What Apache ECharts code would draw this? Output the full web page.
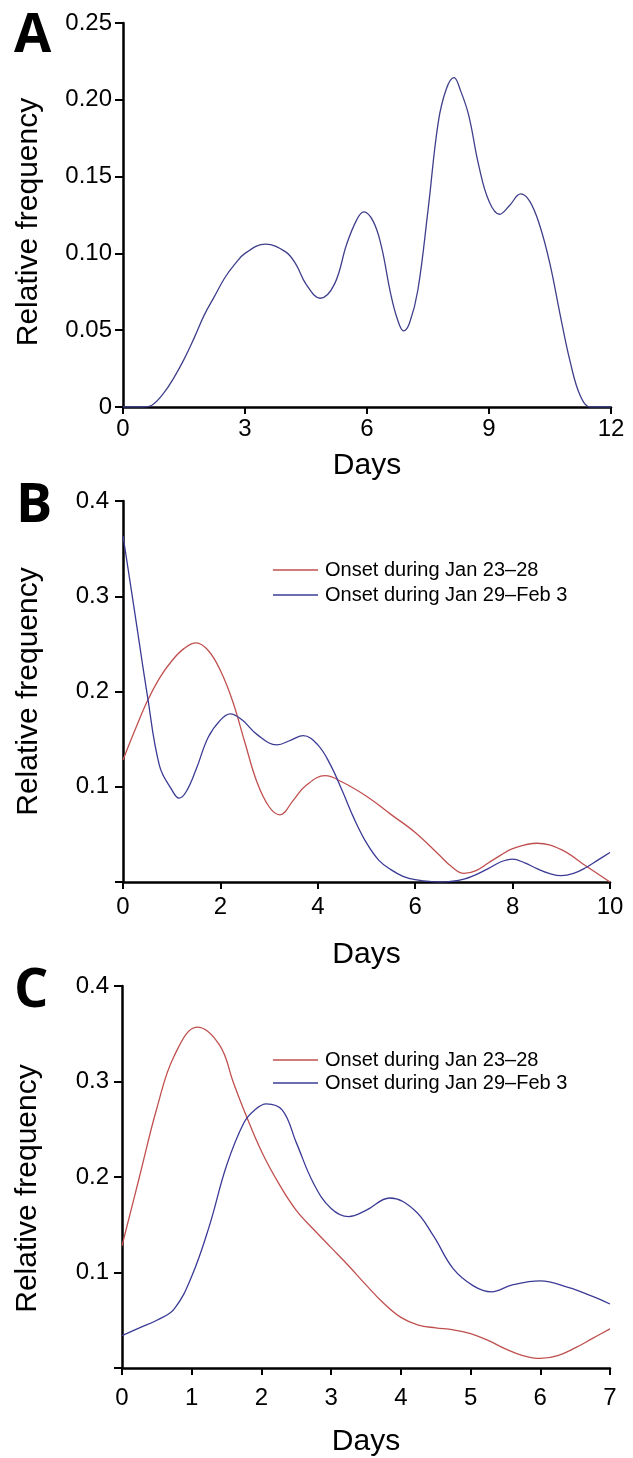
<!DOCTYPE html>
<html>
<head>
<meta charset="utf-8">
<script src="https://cdn.jsdelivr.net/npm/echarts@6/dist/echarts.min.js"></script>
<style>
html,body{margin:0;padding:0;background:#fff;}
#chart{width:633px;height:1458px;}
</style>
</head>
<body>
<div id="chart"></div>
<script>
// ---- Data ----
const seriesNames = ['Onset during Jan 23\u201328', 'Onset during Jan 29\u2013Feb 3'];
const panelLetters = ['A', 'B', 'C'];
const xTitle = 'Days';
const yTitle = 'Relative frequency';

// Panel A
const aDays = [0, 0.5, 0.7, 1.0, 1.25, 1.5, 1.75, 2.0, 2.25, 2.5, 2.75, 3.0, 3.5, 4.0, 4.25, 4.5, 4.85, 5.2, 5.5, 5.75, 5.92, 6.15, 6.35, 6.58, 6.75, 6.9, 7.05, 7.25, 7.5, 7.75, 7.95, 8.14, 8.3, 8.5, 8.75, 9.0, 9.26, 9.5, 9.78, 10.0, 10.25, 10.5, 10.75, 11.0, 11.25, 11.5, 12];
const aFreq = [0, 0, 0.001, 0.009, 0.019, 0.031, 0.045, 0.060, 0.072, 0.084, 0.093, 0.100, 0.106, 0.101, 0.093, 0.080, 0.0708, 0.080, 0.106, 0.122, 0.127, 0.121, 0.105, 0.074, 0.057, 0.0495, 0.055, 0.076, 0.128, 0.185, 0.207, 0.2144, 0.206, 0.190, 0.157, 0.134, 0.1255, 0.131, 0.1387, 0.134, 0.118, 0.093, 0.060, 0.029, 0.007, 0, 0];

// Panel B
const bRedDays = [0, 0.25, 0.5, 0.75, 1.0, 1.25, 1.5, 1.75, 2.0, 2.25, 2.5, 2.75, 3.0, 3.22, 3.5, 3.75, 4.15, 4.5, 5.0, 5.5, 6.0, 6.5, 6.75, 7.0, 7.25, 7.5, 7.75, 8.0, 8.5, 9.0, 9.5, 10];
const bRedFreq = [0.128, 0.160, 0.190, 0.214, 0.232, 0.245, 0.251, 0.243, 0.222, 0.190, 0.147, 0.105, 0.079, 0.0705, 0.086, 0.101, 0.1116, 0.105, 0.090, 0.071, 0.052, 0.028, 0.016, 0.009, 0.012, 0.020, 0.028, 0.035, 0.0407, 0.034, 0.017, 0];
const bBlueDays = [0, 0.25, 0.5, 0.75, 1.0, 1.15, 1.3, 1.5, 1.75, 2.0, 2.2, 2.45, 2.75, 3.16, 3.45, 3.7, 4.0, 4.25, 4.5, 4.75, 5.0, 5.25, 5.5, 5.75, 6.0, 6.5, 7.0, 7.5, 7.75, 8.0, 8.25, 8.5, 8.75, 9.0, 9.25, 9.5, 9.75, 10];
const bBlueFreq = [0.3635, 0.280, 0.196, 0.122, 0.097, 0.088, 0.095, 0.118, 0.152, 0.170, 0.1765, 0.170, 0.155, 0.144, 0.149, 0.1537, 0.144, 0.124, 0.096, 0.066, 0.041, 0.023, 0.013, 0.006, 0.0025, 0, 0.003, 0.014, 0.021, 0.024, 0.020, 0.014, 0.009, 0.0066, 0.009, 0.015, 0.023, 0.031];

// Panel C
const cRedDays = [0, 0.25, 0.5, 0.75, 1.08, 1.4, 1.6, 1.75, 2.0, 2.25, 2.5, 2.75, 3.0, 3.25, 3.5, 3.75, 4.0, 4.25, 4.5, 4.75, 5.0, 5.25, 5.5, 5.75, 6.0, 6.25, 6.5, 6.75, 7.0];
const cRedFreq = [0.128, 0.200, 0.272, 0.327, 0.357, 0.338, 0.2985, 0.270, 0.227, 0.193, 0.165, 0.145, 0.126, 0.107, 0.087, 0.068, 0.053, 0.045, 0.042, 0.040, 0.036, 0.029, 0.020, 0.013, 0.010, 0.013, 0.021, 0.031, 0.041];
const cBlueDays = [0, 0.25, 0.5, 0.75, 1.0, 1.25, 1.5, 1.75, 1.9, 2.07, 2.3, 2.5, 2.75, 3.0, 3.25, 3.5, 3.84, 4.2, 4.47, 4.75, 5.04, 5.3, 5.6, 6.0, 6.4, 6.75, 7.0];
const cBlueFreq = [0.034, 0.042, 0.050, 0.062, 0.096, 0.148, 0.212, 0.257, 0.270, 0.2766, 0.270, 0.236, 0.193, 0.167, 0.1585, 0.165, 0.178, 0.165, 0.138, 0.104, 0.086, 0.0797, 0.087, 0.0912, 0.0843, 0.075, 0.067];

// ---- Styles ----
const RED = '#c0504f';
const BLUE = '#3b3b96';
const NAVY = '#3f3f8c';
const FONT = '"Liberation Sans", Arial, Helvetica, sans-serif';

function zip(xs, ys) { return xs.map((x, i) => [x, ys[i]]); }

const grids = [
  { left: 123, top: 23, width: 488, height: 384 },
  { left: 123, top: 501, width: 487, height: 381 },
  { left: 122, top: 986, width: 488, height: 383 }
];

function xAxisCfg(gi, max, interval, labelMargin, nameGap) {
  return {
    type: 'value', gridIndex: gi, min: 0, max: max, interval: interval,
    name: xTitle, nameLocation: 'middle', nameGap: nameGap,
    nameTextStyle: { fontFamily: FONT, fontSize: 30, color: '#000' },
    axisLine: { show: true, onZero: false, lineStyle: { color: '#000', width: 2.5 } },
    axisTick: { show: true, length: 7, lineStyle: { color: '#000', width: 2 } },
    axisLabel: { fontFamily: FONT, fontSize: 24, color: '#000', margin: labelMargin },
    splitLine: { show: false }
  };
}
function yAxisCfg(gi, max, interval, fmt, labelMargin, namePad) {
  return {
    type: 'value', gridIndex: gi, min: 0, max: max, interval: interval,
    name: yTitle, nameLocation: 'middle', nameGap: 79,
    nameTextStyle: { fontFamily: FONT, fontSize: 30, color: '#000', padding: [0, namePad, 0, 0] },
    axisLine: { show: true, onZero: false, lineStyle: { color: '#000', width: 2.5 } },
    axisTick: { show: true, length: 8, lineStyle: { color: '#000', width: 2 } },
    axisLabel: { fontFamily: FONT, fontSize: 24, color: '#000', margin: labelMargin, formatter: fmt },
    splitLine: { show: false }
  };
}

function lineSeries(name, xi, yi, data, color) {
  return {
    type: 'line', name: name, xAxisIndex: xi, yAxisIndex: yi,
    data: data, smooth: 0.4, showSymbol: false, symbol: 'none',
    color: color, lineStyle: { color: color, width: 1.3 }, z: 3
  };
}

const chart = echarts.init(document.getElementById('chart'), null, { renderer: 'canvas' });
const option = {
  backgroundColor: '#fff',
  animation: false,
  grid: grids,
  xAxis: [
    xAxisCfg(0, 12, 3, 10, 44),
    xAxisCfg(1, 10, 2, 13, 58),
    xAxisCfg(2, 7, 1, 18, 59)
  ],
  yAxis: [
    yAxisCfg(0, 0.25, 0.05, v => v === 0 ? '0' : v.toFixed(2), 11, 14),
    yAxisCfg(1, 0.4, 0.1, v => v === 0 ? '' : v.toFixed(1), 14, 0),
    yAxisCfg(2, 0.4, 0.1, v => v === 0 ? '' : v.toFixed(1), 13, 23)
  ],
  legend: [
    {
      orient: 'vertical', left: 273, top: 560, padding: 0, itemGap: 5,
      icon: 'rect', itemWidth: 45, itemHeight: 1.5,
      data: seriesNames, selectedMode: false,
      textStyle: { fontFamily: FONT, fontSize: 20, color: '#000', padding: [0, 0, 0, 2] }
    },
    {
      orient: 'vertical', left: 273, top: 1050, padding: 0, itemGap: 3,
      icon: 'rect', itemWidth: 45, itemHeight: 1.5,
      data: seriesNames, selectedMode: false,
      textStyle: { fontFamily: FONT, fontSize: 20, color: '#000', padding: [0, 0, 0, 2] }
    }
  ],
  graphic: [
    { type: 'text', left: 14, top: 10, style: { text: panelLetters[0], font: 'bold 54px "Open Sans", sans-serif', fill: '#000' } },
    { type: 'text', left: 16, top: 480, style: { text: panelLetters[1], font: 'bold 54px "Open Sans", sans-serif', fill: '#000' } },
    { type: 'text', left: 14, top: 965, style: { text: panelLetters[2], font: 'bold 54px "Open Sans", sans-serif', fill: '#000' } }
  ],
  series: [
    lineSeries('Panel A', 0, 0, zip(aDays, aFreq), NAVY),
    lineSeries(seriesNames[0], 1, 1, zip(bRedDays, bRedFreq), RED),
    lineSeries(seriesNames[1], 1, 1, zip(bBlueDays, bBlueFreq), BLUE),
    lineSeries(seriesNames[0], 2, 2, zip(cRedDays, cRedFreq), RED),
    lineSeries(seriesNames[1], 2, 2, zip(cBlueDays, cBlueFreq), BLUE)
  ]
};
chart.setOption(option);
</script>
</body>
</html>
